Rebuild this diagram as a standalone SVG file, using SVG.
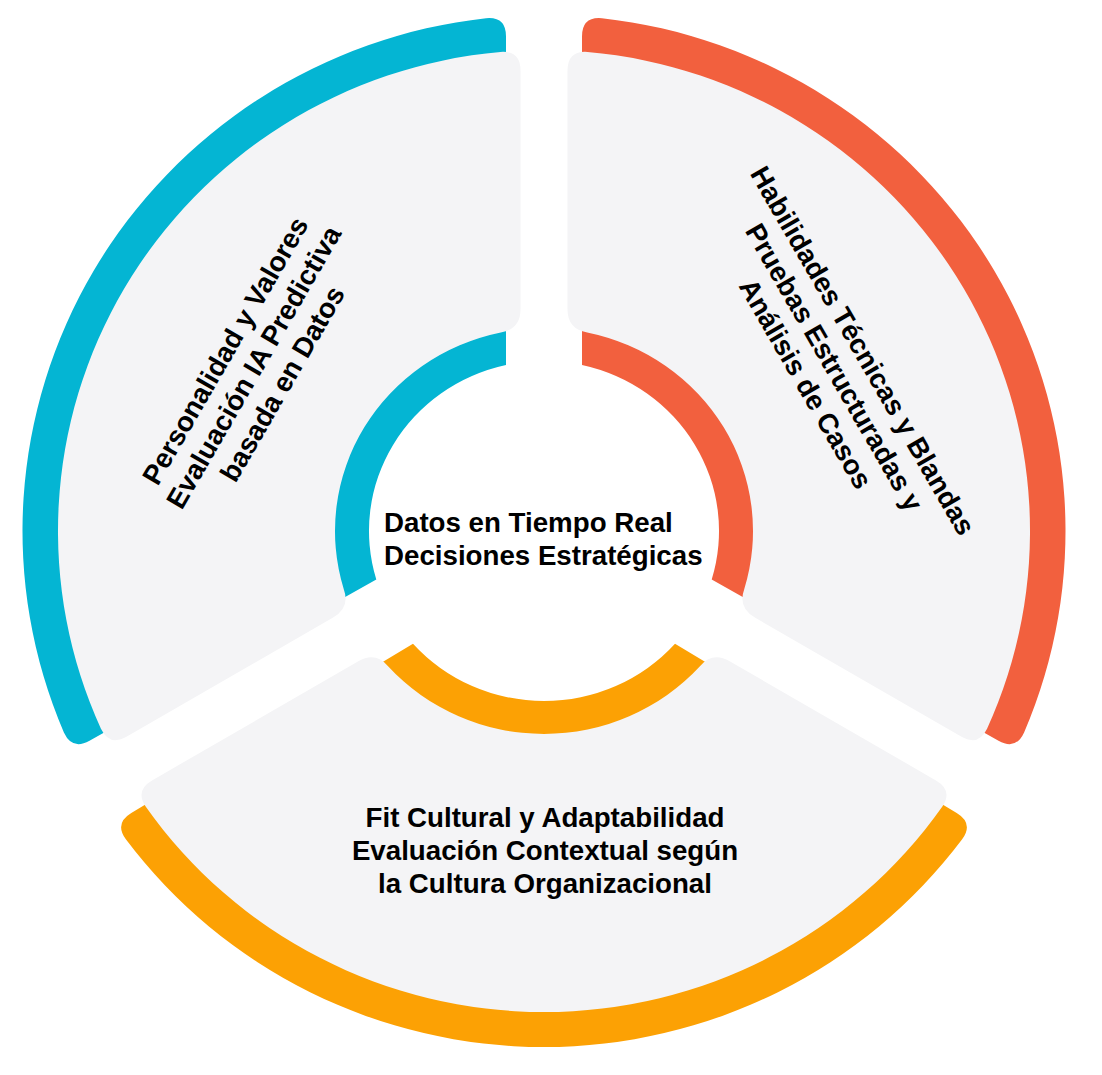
<svg xmlns="http://www.w3.org/2000/svg" width="1102" height="1075" viewBox="0 0 1102 1075">
  <style>
    .panel { fill: #F4F4F6; }
    .blue { fill: #04B5D3; }
    .red { fill: #F2603E; }
    .orange { fill: #FCA104; }
    .lbl { font-family: "Liberation Sans", Arial, Helvetica, sans-serif; font-weight: bold; font-size: 27.7px; fill: #000000; }
    .mid { text-anchor: middle; }
  </style>
  <rect x="0" y="0" width="1102" height="1075" fill="#FFFFFF"/>

  <g id="segment-blue">
    <path class="blue" d="M 506 365 L 506 36.4 Q 506 16.4 486.06 18.2 A 521.5 516 0 0 0 63.9 732.5 Q 72.1 750.5 89.5 740.7 L 376.3 579.6 A 175 170 0 0 1 506 365 Z"/>
    <path class="panel" d="M 520.5 70.56 Q 520.5 50.56 500.54 51.93 A 486 481 0 0 0 100.94 728.71 Q 109.56 746.62 126.88 736.62 L 333.12 617.54 Q 350.44 607.54 343.78 589.23 A 209 203 0 0 1 500.76 332.39 Q 520.5 329.3 520.5 309.3 Z"/>
    <g transform="translate(262,372) rotate(-60)">
      <text class="lbl mid" x="0" y="-33">Personalidad y Valores</text>
      <text class="lbl mid" x="0" y="0">Evaluación IA Predictiva</text>
      <text class="lbl mid" x="0" y="33">basada en Datos</text>
    </g>
  </g>

  <g id="segment-red">
    <path class="red" d="M 582 365 L 582 36.4 Q 582 16.4 601.94 18.2 A 521.5 516 0 0 1 1024.1 732.5 Q 1015.9 750.5 998.5 740.7 L 711.7 579.6 A 175 170 0 0 0 582 365 Z"/>
    <path class="panel" d="M 567.5 70.56 Q 567.5 50.56 587.46 51.93 A 486 481 0 0 1 987.06 728.71 Q 978.44 746.62 961.12 736.62 L 754.88 617.54 Q 737.56 607.54 744.22 589.23 A 209 203 0 0 0 587.24 332.39 Q 567.5 329.3 567.5 309.3 Z"/>
    <g transform="translate(826,372) rotate(60)">
      <text class="lbl mid" x="0" y="-33">Habilidades Técnicas y Blandas</text>
      <text class="lbl mid" x="0" y="0">Pruebas Estructuradas y</text>
      <text class="lbl mid" x="0" y="33">Análisis de Casos</text>
    </g>
  </g>

  <g id="segment-orange">
    <path class="orange" d="M 413 643.7 L 131.3 812.9 Q 114.15 823.24 125.85 839.34 A 521.5 516 0 0 0 962.15 839.34 Q 973.85 823.24 956.7 812.9 L 675 643.7 A 175 170 0 0 1 413 643.7 Z"/>
    <path class="panel" d="M 152.05 780.4 L 358.33 661.3 Q 375.65 651.3 388.3 666.39 A 209 203 0 0 0 699.7 666.39 Q 712.35 651.3 729.67 661.3 L 935.95 780.4 Q 953.27 790.4 942.19 806.77 A 486 481 0 0 1 145.81 806.77 Q 134.73 790.4 152.05 780.4 Z"/>
    <text class="lbl mid" x="545" y="827">Fit Cultural y Adaptabilidad</text>
    <text class="lbl mid" x="545" y="860">Evaluación Contextual según</text>
    <text class="lbl mid" x="545" y="893">la Cultura Organizacional</text>
  </g>

  <g id="center">
    <text class="lbl" x="384" y="532">Datos en Tiempo Real</text>
    <text class="lbl" x="384" y="565">Decisiones Estratégicas</text>
  </g>

  <g id="connectors"/>
</svg>
